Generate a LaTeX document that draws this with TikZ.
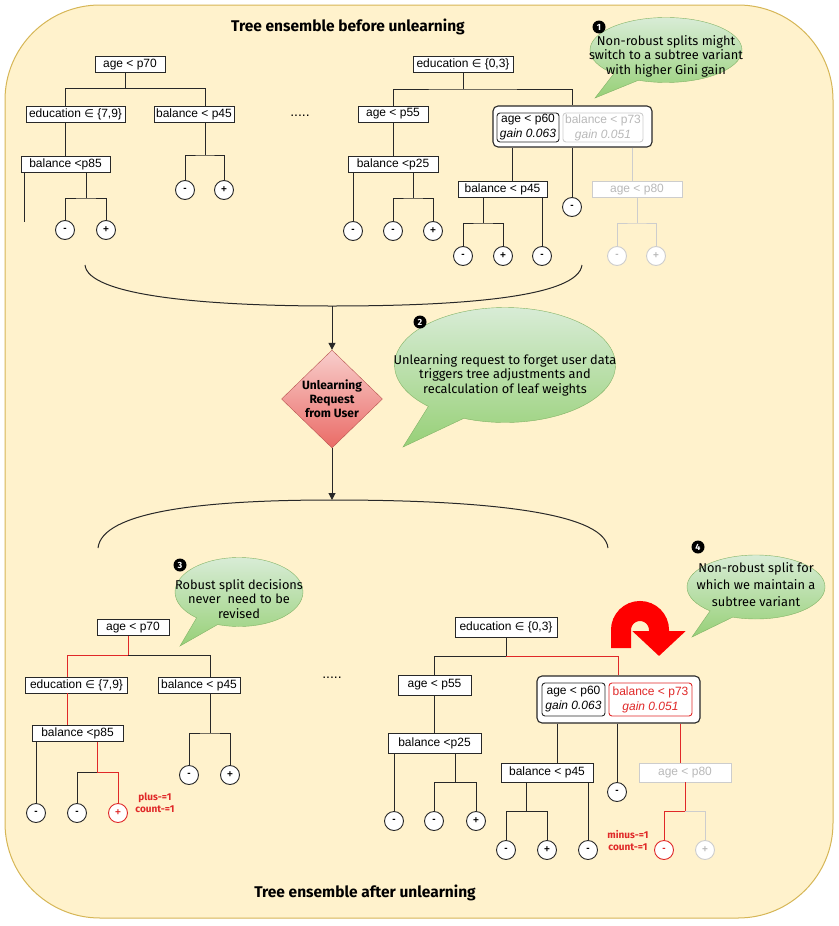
\documentclass[tikz,border=0pt]{standalone}
\usepackage{fontspec}
\setmainfont{Fira Sans}
\newfontfamily\boxfont{Liberation Sans}
\newfontfamily\symfont{DejaVu Sans}
\usetikzlibrary{arrows.meta,shapes.geometric,shapes.callouts}

\definecolor{bgfill}{RGB}{255,242,204}
\definecolor{bgline}{RGB}{214,182,86}
\definecolor{bubtop}{RGB}{216,236,214}
\definecolor{bubbot}{RGB}{151,208,119}
\definecolor{bubline}{RGB}{130,179,102}
\definecolor{reqtop}{RGB}{248,206,204}
\definecolor{reqbot}{RGB}{234,107,102}
\definecolor{reqline}{RGB}{184,84,80}
\definecolor{hotred}{RGB}{224,40,40}
\definecolor{ghostgray}{RGB}{205,205,205}
\definecolor{ghosttxt}{RGB}{185,185,185}
\definecolor{ink}{RGB}{40,40,40}

\newcommand{\elemof}{{\symfont\fontsize{11}{11}\selectfont ∈}}

\tikzset{
  split/.style={draw=ink, fill=white, line width=0.9pt, inner sep=1.5pt, minimum height=16,
    font=\boxfont\fontsize{12}{14}\selectfont},
  leaf/.style={circle, draw=ink, fill=white, line width=0.9pt, inner sep=0pt, minimum size=19,
    font=\boxfont\bfseries\fontsize{10}{10}\selectfont},
  ghost/.style={draw=ghostgray, text=ghosttxt},
  hot/.style={draw=hotred, text=hotred},
  variant/.style={draw=ink, fill=white, rounded corners=5, line width=1.1pt},
  gainbox/.style={draw=ink, fill=white, rounded corners=3, line width=0.9pt, align=center,
    inner sep=1pt, font=\boxfont\fontsize{12}{15}\selectfont},
  bubble/.style={ellipse callout, draw=bubline, top color=bubtop, bottom color=bubbot,
    inner sep=0pt, callout pointer arc=22},
  bubtext/.style={align=center, font=\fontsize{12.8}{14.5}\selectfont},
  marker/.style={circle, fill=black, text=white, inner sep=0pt, minimum size=13,
    font=\bfseries\fontsize{9}{9}\selectfont},
  title/.style={font=\bfseries\fontsize{15.5}{18}\selectfont},
  request/.style={diamond, draw=reqline, top color=reqtop, bottom color=reqbot, inner sep=0pt,
    minimum width=101, minimum height=96, align=center, font=\bfseries\fontsize{12}{14}\selectfont},
  counter/.style={text=hotred, align=center, font=\bfseries\fontsize{10}{12}\selectfont},
  uturn/.style={draw=red, line width=20pt, -{Triangle[width=52pt,length=25pt]}}
}

\begin{document}
\begin{tikzpicture}[x=1pt,y=-1pt]
    \useasboundingbox (0,0) rectangle (838,926);
    %% Draw the background
    \path[draw=bgline, fill=bgfill, line width=1pt, rounded corners=95] (5,5) rectangle (833,918);
    \node[title] (before) at (348,27) {Tree ensemble before unlearning};
    \node[title] (after) at (365,893) {Tree ensemble after unlearning};

    %% Draw the first tree before unlearning
    \node[split, minimum width=70] (ta1) at (130,64.5) {age < p70};
    \node[split, minimum width=99] (ta2) at (75.5,114) {education \elemof\ \{7,9\}};
    \node[split, minimum width=80] (ta3) at (194,114) {balance < p45};
    \node[split, minimum width=89] (ta4) at (65.5,164.5) {balance <p85};
    \node[leaf] (ta5) at (65,230) {-};
    \node[leaf] (ta6) at (106,230) {+};
    \node[leaf] (ta7) at (185,190) {-};
    \node[leaf] (ta8) at (224,190) {+};
    \node[font=\boxfont\fontsize{14}{14}\selectfont] (dots1) at (300,116) {.....};

    %% Draw the second tree before unlearning
    \node[split, minimum width=100] (tb1) at (463,64) {education \elemof\ \{0,3\}};
    \node[split, minimum width=70] (tb2) at (393,114) {age < p55};
    \node[variant, minimum width=159, minimum height=41] (tb3) at (572.5,126.5) {};
    \node[gainbox, minimum width=62, minimum height=29] (tb3a) at (528,127.5) {age < p60\\\textit{gain 0.063}};
    \node[gainbox, ghost, minimum width=80, minimum height=29] (tb3b) at (603,127.5) {balance < p73\\\textit{gain 0.051}};
    \node[split, minimum width=90] (tb4) at (393,164) {balance <p25};
    \node[split, minimum width=89] (tb5) at (502.5,189.5) {balance < p45};
    \node[split, ghost, minimum width=90] (tb6) at (637,189.5) {age < p80};
    \node[leaf] (tb7) at (353,231) {-};
    \node[leaf] (tb8) at (393,231) {-};
    \node[leaf] (tb9) at (433,231) {+};
    \node[leaf] (tb10) at (572,207) {-};
    \node[leaf] (tb11) at (463,256) {-};
    \node[leaf] (tb12) at (503,256) {+};
    \node[leaf] (tb13) at (542,256) {-};
    \node[leaf, ghost] (tb14) at (617,256) {-};
    \node[leaf, ghost] (tb15) at (656,256) {+};

    %% Draw the joints
    \coordinate (ja1) at (65,88);
    \coordinate (ja1m) at (125,88);
    \coordinate (ja1r) at (205,88);
    \coordinate (ja2) at (24,222);
    \coordinate (ja3) at (86,198);
    \coordinate (ja4) at (205,155);
    \coordinate (jb1) at (463,89);
    \coordinate (jb2) at (413,198);
    \coordinate (xb3) at (512,181);
    \coordinate (xb4) at (632,181);
    \coordinate (jb5) at (483,223);
    \coordinate (jb6) at (637,223);

    %% Draw the edges
    \begin{scope}[every path/.style={draw=ink, line width=1pt}]
      \draw (ta1.south -| ja1m) -- (ja1m);
      \draw (ta2.north -| ja1) -- (ja1) -- (ja1r) -- (ta3.north -| ja1r);
      \draw (ta2.south -| ja1) -- (ta4.north -| ja1);
      \draw (ta4.south -| ja2) -- (ja2);
      \draw (ta4.south -| ja3) -- (ja3);
      \draw (ta5) |- (ja3) -| (ta6);
      \draw (ta3.south -| ja4) -- (ja4);
      \draw (ta7) |- (ja4) -| (ta8);
      \draw (tb1) -- (jb1);
      \draw (tb2) |- (jb1) -| (tb3);
      \draw (tb2) -- (tb4);
      \draw (tb4.south -| tb7) -- (tb7);
      \draw (tb4.south -| jb2) -- (jb2);
      \draw (tb8) |- (jb2) -| (tb9);
      \draw (tb3.south -| xb3) -- (xb3);
      \draw (tb3.south -| tb10) -- (tb10);
      \draw[ghost] (tb3.south -| xb4) -- (xb4);
      \draw (tb5.south -| jb5) -- (jb5);
      \draw (tb11) |- (jb5) -| (tb12);
      \draw (tb5.south -| tb13) -- (tb13);
      \draw[ghost] (tb6) -- (jb6);
      \draw[ghost] (tb14) |- (jb6) -| (tb15);
    \end{scope}

    %% Draw the unlearning request
    \coordinate (ua) at (85,265);
    \coordinate (um) at (332,306);
    \coordinate (ub) at (582,265);
    \coordinate (va) at (98,548);
    \coordinate (vm) at (332,500);
    \coordinate (vb) at (608,548);
    \node[request] (req) at (332,399) {Unlearning\\Request\\from User};
    \draw[ink, line width=1pt] (ua) .. controls (88,295) and (200,306) .. (um) .. controls (470,306) and (578,296) .. (ub);
    \draw[ink, line width=1pt] (va) .. controls (102,512) and (200,500) .. (vm) .. controls (470,500) and (604,510) .. (vb);
    \draw[ink, line width=1pt, -{Triangle[width=7pt,length=7pt]}] (um) -- (req);
    \draw[ink, line width=1pt, -{Triangle[width=7pt,length=7pt]}] (req) -- (vm);

    %% Draw the first tree after unlearning
    \node[split, minimum width=72] (tc1) at (133,627.5) {age < p70};
    \node[split, minimum width=102] (tc2) at (76.5,685) {education \elemof\ \{7,9\}};
    \node[split, minimum width=82] (tc3) at (199,685) {balance < p45};
    \node[split, minimum width=91] (tc4) at (77.5,733.5) {balance <p85};
    \node[leaf] (tc5) at (36,813) {-};
    \node[leaf] (tc6) at (77,813) {-};
    \node[leaf, hot] (tc7) at (118,813) {+};
    \node[leaf] (tc8) at (189,775) {-};
    \node[leaf] (tc9) at (230,775) {+};
    \node[counter] (tc10) at (155,803) {plus-=1\\count-=1};
    \node[font=\boxfont\fontsize{14}{14}\selectfont] (dots2) at (332,678) {.....};

    %% Draw the second tree after unlearning
    \node[split, minimum width=102, minimum height=20] (td1) at (506,627) {education \elemof\ \{0,3\}};
    \node[split, minimum width=73, minimum height=20] (td2) at (434.5,685) {age < p55};
    \node[variant, minimum width=163, minimum height=47] (td3) at (618.5,699.5) {};
    \node[gainbox, minimum width=63, minimum height=33] (td3a) at (573.5,699.5) {age < p60\\\textit{gain 0.063}};
    \node[gainbox, hot, minimum width=83, minimum height=33] (td3b) at (650.5,699.5) {balance < p73\\\textit{gain 0.051}};
    \node[split, minimum width=93, minimum height=20] (td4) at (434.5,743) {balance <p25};
    \node[split, minimum width=92, minimum height=19] (td5) at (547,772.5) {balance < p45};
    \node[split, ghost, minimum width=92, minimum height=19] (td6) at (685,772.5) {age < p80};
    \node[leaf] (td7) at (394,821) {-};
    \node[leaf] (td8) at (434,821) {-};
    \node[leaf] (td9) at (476,821) {+};
    \node[leaf] (td10) at (617,792) {-};
    \node[leaf] (td11) at (506,850) {-};
    \node[leaf] (td12) at (547,850) {+};
    \node[leaf] (td13) at (588,850) {-};
    \node[leaf, hot] (td14) at (664,850) {-};
    \node[leaf, ghost] (td15) at (705,850) {+};
    \node[counter] (td16) at (628,841) {minus-=1\\count-=1};

    %% Draw the joints
    \coordinate (jc1l) at (67,655);
    \coordinate (jc1) at (128,655);
    \coordinate (jc1r) at (210,655);
    \coordinate (jc2) at (97,772);
    \coordinate (jc3) at (210,733);
    \coordinate (jd1) at (506,656);
    \coordinate (jd2) at (455,782);
    \coordinate (xd3) at (557,763);
    \coordinate (xd4) at (680,763);
    \coordinate (jd5) at (526,811);
    \coordinate (jd6) at (685,811);

    %% Draw the edges
    \begin{scope}[every path/.style={draw=ink, line width=1pt}]
      \draw[hot] (tc1.south -| jc1) -- (jc1) -- (jc1l) -- (tc2.north -| jc1l);
      \draw (jc1) -- (jc1r) -- (tc3.north -| jc1r);
      \draw[hot] (tc2.south -| jc1l) -- (tc4.north -| jc1l);
      \draw (tc4.south -| tc5) -- (tc5);
      \draw[hot] (tc4.south -| jc2) -- (jc2) -| (tc7);
      \draw (jc2) -| (tc6);
      \draw (tc3.south -| jc3) -- (jc3);
      \draw (tc8) |- (jc3) -| (tc9);
      \draw (td1) -- (jd1) -| (td2);
      \draw[hot] (jd1) -| (td3);
      \draw (td2) -- (td4);
      \draw (td4.south -| td7) -- (td7);
      \draw (td4.south -| jd2) -- (jd2);
      \draw (td8) |- (jd2) -| (td9);
      \draw (td3.south -| xd3) -- (xd3);
      \draw (td3.south -| td10) -- (td10);
      \draw[hot] (td3.south -| xd4) -- (xd4);
      \draw (td5.south -| jd5) -- (jd5);
      \draw (td11) |- (jd5) -| (td12);
      \draw (td5.south -| td13) -- (td13);
      \draw[hot] (td6) -- (jd6) -| (td14);
      \draw[ghost] (jd6) -| (td15);
    \end{scope}
    \draw[uturn] (621,648) -- (621,630) arc (180:360:19) -- (659,656);

    %% Draw the speech bubbles
    \node[bubble, minimum width=152, minimum height=65, callout absolute pointer={(595,98)}] (b1) at (666,50) {};
    \node[bubtext] (b1t) at (666,56) {Non-robust splits might\\switch to a subtree variant\\with higher Gini gain};
    \node[marker] (n1) at (599,27) {1};
    \node[bubble, minimum width=221, minimum height=115, callout absolute pointer={(403,447)}] (b2) at (505,365) {};
    \node[bubtext] (b2t) at (505,375) {Unlearning request to forget user data\\triggers tree adjustments and\\recalculation of leaf weights};
    \node[marker] (n2) at (420,322) {2};
    \node[bubble, minimum width=128, minimum height=69, callout absolute pointer={(180,646)}] (b3) at (239,592) {};
    \node[bubtext] (b3t) at (239,599) {Robust split decisions\\never\ \ need to be\\revised};
    \node[marker] (n3) at (180,565) {3};
    \node[bubble, minimum width=138, minimum height=64, callout absolute pointer={(692,637)}] (b4) at (756,587) {};
    \node[bubtext, font=\fontsize{12.8}{17}\selectfont] (b4t) at (756,585) {Non-robust split for\\which we maintain a\\subtree variant};
    \node[marker] (n4) at (698,547) {4};
  \end{tikzpicture}
\end{document}
